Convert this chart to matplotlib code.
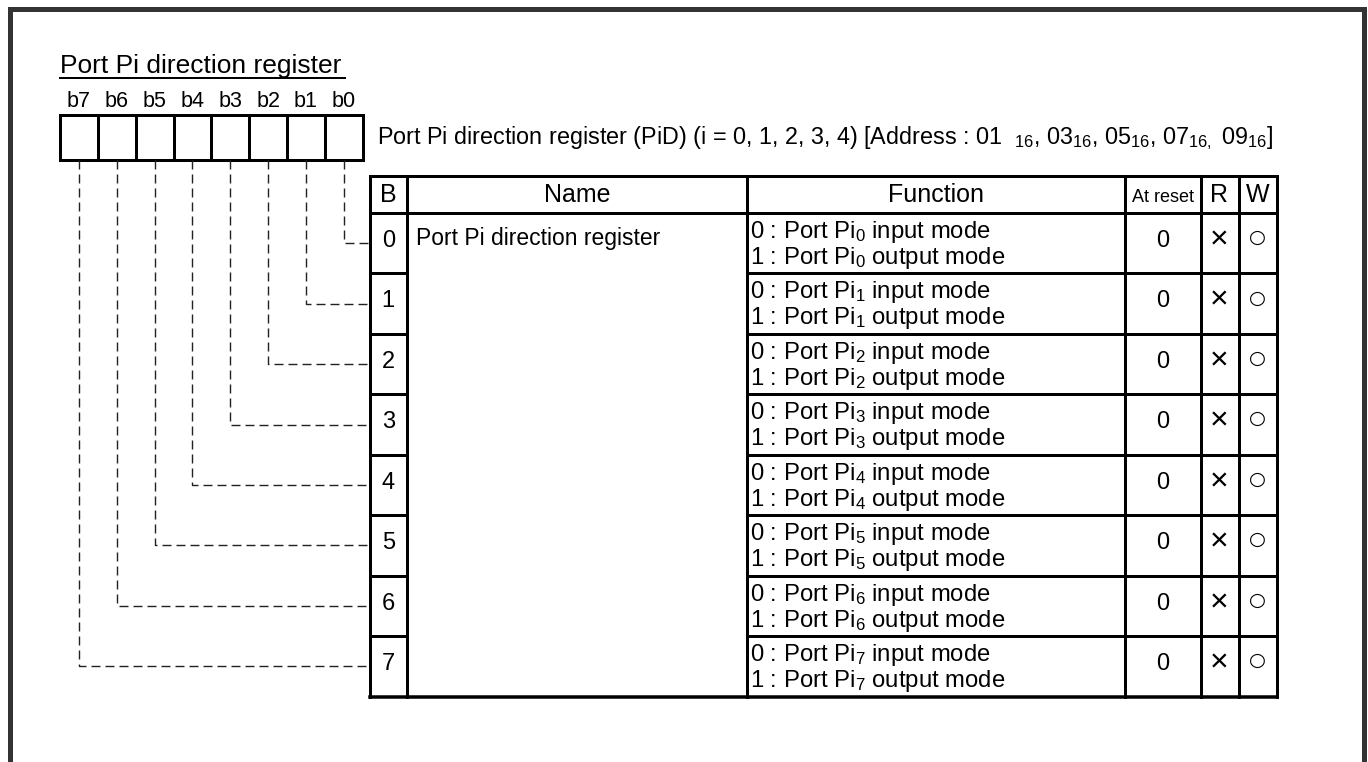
import matplotlib
matplotlib.use("Agg")
import matplotlib.pyplot as plt

plt.rcParams['font.family'] = ['Liberation Sans', 'DejaVu Sans']
plt.rcParams['mathtext.fontset'] = 'custom'
plt.rcParams['mathtext.rm'] = 'Liberation Sans'
plt.rcParams['mathtext.it'] = 'Liberation Sans'
plt.rcParams['lines.scale_dashes'] = False

# ---------------- content ----------------
TITLE = "Port Pi direction register "
BIT_LABELS = ["b7", "b6", "b5", "b4", "b3", "b2", "b1", "b0"]
REG_DESC = (r"Port Pi direction register (PiD) (i = 0, 1, 2, 3, 4) [Address : 01  $_{\mathregular{16}}$, "
            r"03$_{\mathregular{16}}$, 05$_{\mathregular{16}}$, 07$_{\mathregular{16,}}$ 09$_{\mathregular{16}}$]")
HEADERS = ["B", "Name", "Function", "At reset", "R", "W"]
BITS = ["0", "1", "2", "3", "4", "5", "6", "7"]
NAME = "Port Pi direction register"
FUNC_LINE0 = [r"0 : Port Pi$_{\mathregular{%d}}$ input mode" % i for i in range(8)]
FUNC_LINE1 = [r"1 : Port Pi$_{\mathregular{%d}}$ output mode" % i for i in range(8)]
RESET = ["0", "0", "0", "0", "0", "0", "0", "0"]
READ = ["×", "×", "×", "×", "×", "×", "×", "×"]
WRITE = ["○", "○", "○", "○", "○", "○", "○", "○"]

# ---------------- layout (pixel coordinates) ----------------
W, H = 1368, 762
fig = plt.figure(figsize=(W / 100, H / 100), dpi=100)
ax = fig.add_axes([0, 0, 1, 1])
ax.set_xlim(0, W)
ax.set_ylim(H, 0)
ax.axis('off')

def pt(px):
    return px * 72 / 100

# outer frame (no bottom edge)
ax.plot([9.5, 9.5, 1364, 1364], [H, 9, 9, H], color='#333333', lw=pt(5),
        solid_joinstyle='miter', solid_capstyle='butt')

# title
ax.text(60, 73, TITLE, fontsize=19, ha='left', va='baseline')
ax.plot([60, 345], [77.5, 77.5], color='black', lw=pt(2))

# bit boxes
box_l, box_r, box_t, box_b = 60, 362.7, 115, 160
bw = (box_r - box_l) / 8
ax.plot([box_l, box_r, box_r, box_l, box_l], [box_t, box_t, box_b, box_b, box_t],
        color='black', lw=pt(3), solid_joinstyle='miter')
for k in range(1, 8):
    x = box_l + k * bw
    ax.plot([x, x], [box_t, box_b], color='black', lw=pt(3))
for k, lab in enumerate(BIT_LABELS):
    ax.text(box_l + (k + 0.5) * bw, 107, lab, fontsize=15.5, ha='center', va='baseline')

# register description
ax.text(377, 144, REG_DESC, fontsize=16.8, ha='left', va='baseline')

# table
cols = [369.5, 407, 747, 1125, 1200.5, 1238.5, 1276.5]
t_top, h_bot = 176, 213
row_h = 60.45
n = len(BITS)
t_bot = h_bot + n * row_h
lw_t = pt(3)

for x in cols:
    ax.plot([x, x], [t_top, t_bot], color='black', lw=lw_t)
for y in (t_top, h_bot):
    ax.plot([cols[0], cols[-1]], [y, y], color='black', lw=lw_t)
ax.plot([cols[0], cols[-1]], [t_bot, t_bot], color='black', lw=pt(3.5))
for i in range(1, n):
    y = h_bot + i * row_h
    ax.plot([cols[0], cols[1]], [y, y], color='black', lw=lw_t)
    ax.plot([cols[2], cols[-1]], [y, y], color='black', lw=lw_t)

# headers
for j, hd in enumerate(HEADERS):
    xc = (cols[j] + cols[j + 1]) / 2
    fs = 13 if hd == "At reset" else 18
    ax.text(xc, 202, hd, fontsize=fs, ha='center', va='baseline')

# rows
for i in range(n):
    top = h_bot + i * row_h
    ax.text((cols[0] + cols[1]) / 2, top + 34, BITS[i], fontsize=17, ha='center', va='baseline')
    ax.text(750, top + 25, FUNC_LINE0[i], fontsize=17.2, ha='left', va='baseline')
    ax.text(750, top + 51, FUNC_LINE1[i], fontsize=17.2, ha='left', va='baseline')
    ax.text((cols[3] + cols[4]) / 2, top + 34, RESET[i], fontsize=17, ha='center', va='baseline')
    ax.text((cols[4] + cols[5]) / 2, top + 27.5, READ[i], fontsize=23, ha='center', va='center')
    ax.text((cols[5] + cols[6]) / 2, top + 24.5, WRITE[i], fontsize=14, ha='center', va='center',
            family=['DejaVu Sans'])
ax.text(416, h_bot + 32, NAME, fontsize=16.5, ha='left', va='baseline')

# dashed connectors from each bit box to its table row
for i in range(n):
    xc = box_l + (7 - i + 0.5) * bw
    yc = h_bot + (i + 0.5) * row_h
    ax.plot([xc, xc, cols[0]], [box_b, yc, yc], color='#222222', lw=pt(1.4),
            dashes=(pt(9), pt(5)))

fig.savefig("out.png", dpi=100)
